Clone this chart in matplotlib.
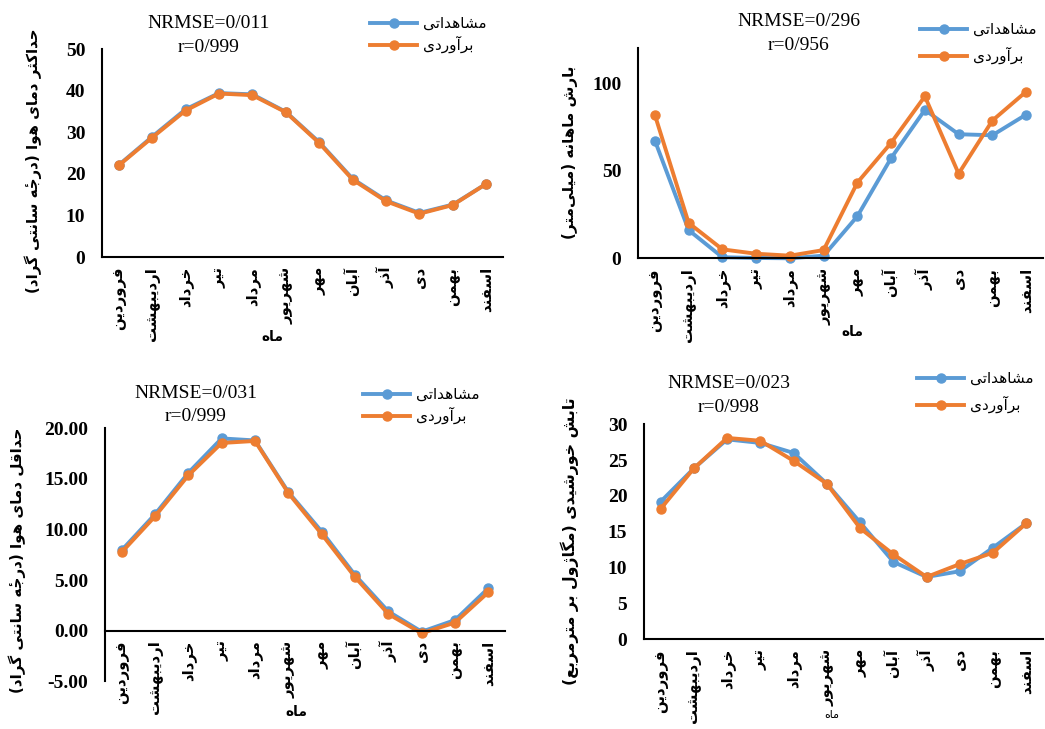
import matplotlib
matplotlib.use("Agg")
import matplotlib.pyplot as plt

# ---------------- data ----------------
months = ["فروردین", "اردیبهشت", "خرداد", "تیر", "مرداد", "شهریور",
          "مهر", "آبان", "آذر", "دی", "بهمن", "اسفند"]
series_names = ["مشاهداتی", "برآوردی"]
x_title = "ماه"

tmax_obs = [22.1, 28.9, 35.5, 39.4, 39.1, 34.9, 27.6, 18.8, 13.6, 10.6, 12.6, 17.6]
tmax_est = [22.0, 28.7, 35.2, 39.3, 38.9, 34.8, 27.4, 18.6, 13.4, 10.4, 12.5, 17.6]
tmax_ylabel = "حداکثر دمای هوا (درجهٔ سانتی گراد)"
tmax_stats = ["NRMSE=0/011", "r=0/999"]
tmax_yticks = [0, 10, 20, 30, 40, 50]

rain_obs = [67.2, 16.1, 0.6, 0.2, 0.0, 1.5, 24.0, 57.2, 84.7, 70.8, 70.2, 82.0]
rain_est = [81.8, 20.2, 5.1, 2.6, 1.5, 4.7, 43.2, 65.9, 92.4, 48.3, 78.6, 95.1]
rain_ylabel = "بارش ماهانه (میلی\u200cمتر)"
rain_stats = ["NRMSE=0/296", "r=0/956"]
rain_yticks = [0, 50, 100]

tmin_obs = [7.95, 11.5, 15.6, 19.0, 18.8, 13.7, 9.8, 5.5, 1.9, -0.1, 1.05, 4.2]
tmin_est = [7.75, 11.3, 15.35, 18.55, 18.75, 13.6, 9.55, 5.3, 1.65, -0.25, 0.8, 3.8]
tmin_ylabel = "حداقل دمای هوا (درجهٔ سانتی گراد)"
tmin_stats = ["NRMSE=0/031", "r=0/999"]
tmin_yticks = [-5, 0, 5, 10, 15, 20]

rad_obs = [19.2, 23.85, 27.9, 27.4, 26.0, 21.7, 16.3, 10.8, 8.7, 9.5, 12.8, 16.2]
rad_est = [18.2, 23.85, 28.1, 27.7, 24.9, 21.7, 15.5, 11.85, 8.7, 10.5, 12.1, 16.2]
rad_ylabel = "تابش خورشیدی (مگاژول بر مترمربع)"
rad_stats = ["NRMSE=0/023", "r=0/998"]
rad_yticks = [0, 5, 10, 15, 20, 25, 30]

# ---------------- simple Persian shaping (matplotlib has no RTL/shaping) ----------------
FORMS = {
    "\u0627": ("\uFE8D", "\uFE8E", None, None),
    "\u0622": ("\uFE81", "\uFE82", None, None),
    "\u0628": ("\uFE8F", "\uFE90", "\uFE91", "\uFE92"),
    "\u062A": ("\uFE95", "\uFE96", "\uFE97", "\uFE98"),
    "\u062B": ("\uFE99", "\uFE9A", "\uFE9B", "\uFE9C"),
    "\u062C": ("\uFE9D", "\uFE9E", "\uFE9F", "\uFEA0"),
    "\u062D": ("\uFEA1", "\uFEA2", "\uFEA3", "\uFEA4"),
    "\u062E": ("\uFEA5", "\uFEA6", "\uFEA7", "\uFEA8"),
    "\u062F": ("\uFEA9", "\uFEAA", None, None),
    "\u0630": ("\uFEAB", "\uFEAC", None, None),
    "\u0631": ("\uFEAD", "\uFEAE", None, None),
    "\u0632": ("\uFEAF", "\uFEB0", None, None),
    "\u0698": ("\uFB8A", "\uFB8B", None, None),
    "\u0633": ("\uFEB1", "\uFEB2", "\uFEB3", "\uFEB4"),
    "\u0634": ("\uFEB5", "\uFEB6", "\uFEB7", "\uFEB8"),
    "\u0639": ("\uFEC9", "\uFECA", "\uFECB", "\uFECC"),
    "\u0641": ("\uFED1", "\uFED2", "\uFED3", "\uFED4"),
    "\u0642": ("\uFED5", "\uFED6", "\uFED7", "\uFED8"),
    "\u0644": ("\uFEDD", "\uFEDE", "\uFEDF", "\uFEE0"),
    "\u0645": ("\uFEE1", "\uFEE2", "\uFEE3", "\uFEE4"),
    "\u0646": ("\uFEE5", "\uFEE6", "\uFEE7", "\uFEE8"),
    "\u0647": ("\uFEE9", "\uFEEA", "\uFEEB", "\uFEEC"),
    "\u0648": ("\uFEED", "\uFEEE", None, None),
    "\u06CC": ("\uFEEF", "\uFEF0", "\uFEF3", "\uFEF4"),
    "\u06A9": ("\uFB8E", "\uFB8F", "\uFB90", "\uFB91"),
    "\u06AF": ("\uFB92", "\uFB93", "\uFB94", "\uFB95"),
}
MARKS = set("\u0654\u064B\u064C\u064D\u064E\u064F\u0650\u0651\u0652")


def fa(s):
    s = s.replace("\u064A", "\u06CC").replace("\u0643", "\u06A9").replace("\u0627\u0653", "\u0622")
    ch = list(s)
    n = len(ch)
    out = []
    for i, c in enumerate(ch):
        if c not in FORMS:
            out.append(c)
            continue
        j = i - 1
        while j >= 0 and ch[j] in MARKS:
            j -= 1
        k = i + 1
        while k < n and ch[k] in MARKS:
            k += 1
        prev = ch[j] if j >= 0 else None
        nxt = ch[k] if k < n else None
        pj = prev in FORMS and FORMS[prev][2] is not None
        iso, fin, ini, med = FORMS[c]
        nj = (nxt in FORMS) and ini is not None
        if pj and nj:
            g = med
        elif pj:
            g = fin
        elif nj:
            g = ini
        else:
            g = iso
        out.append(g)
    clusters = []
    for c in out:
        if c in MARKS and clusters:
            clusters[-1] += c
        elif c == "\u200c":
            continue
        else:
            clusters.append(c)
    clusters.reverse()
    mirror = {"(": ")", ")": "("}
    return "".join(mirror.get(c, c) for c in clusters)


# ---------------- figure ----------------
W, H = 1045, 729
BLUE = "#5B9BD5"
ORANGE = "#ED7D31"
FA = "DejaVu Sans"
SERIF = "Liberation Serif"

fig = plt.figure(figsize=(W / 100, H / 100), dpi=100)
renderer = fig.canvas.get_renderer()


def fx(px):
    return px / W


def fy(py):
    return 1 - py / H


def fit(t, target):
    bb = t.get_window_extent(renderer)
    length = max(bb.width, bb.height)
    t.set_fontsize(t.get_fontsize() * target / length)


panels = [
    dict(obs=tmax_obs, est=tmax_est, ylabel=tmax_ylabel, stats=tmax_stats, yticks=tmax_yticks,
         fmt="{:d}", box=(102, 503, 49, 257), ylim=(0, 50), stats_xy=(209, 23, 48),
         leg=(370, 25, 0.33), ylab=(33, 161, 265), xlab=(272, 337, 22, "bold"), zero=False),
    dict(obs=rain_obs, est=rain_est, ylabel=rain_ylabel, stats=rain_stats, yticks=rain_yticks,
         fmt="{:d}", box=(638, 1043, 48, 258.3), ylim=(0, 120), stats_xy=(799, 22, 46),
         leg=(920, 31, 0.66), ylab=(570, 152, 173), xlab=(852, 332, 22, "bold"), zero=False),
    dict(obs=tmin_obs, est=tmin_est, ylabel=tmin_ylabel, stats=tmin_stats, yticks=tmin_yticks,
         fmt="{:.2f}", box=(105, 505, 428.3, 681.3), ylim=(-5, 20), stats_xy=(196, 393, 417),
         leg=(363, 396, 0.33), ylab=(17, 560, 265), xlab=(296, 712, 22, "bold"), zero=True),
    dict(obs=rad_obs, est=rad_est, ylabel=rad_ylabel, stats=rad_stats, yticks=rad_yticks,
         fmt="{:d}", box=(644, 1043, 424.3, 639.3), ylim=(0, 30), stats_xy=(729, 383, 407),
         leg=(917, 380, 0.66), ylab=(570, 541, 288), xlab=(832, 715, 15, "normal"), zero=False),
]

x = list(range(len(months)))
month_labels = [fa(m) for m in months]

for p in panels:
    l, r, t, b = p["box"]
    ax = fig.add_axes([fx(l), fy(b), fx(r - l), (b - t) / H])
    for s in ("top", "right"):
        ax.spines[s].set_visible(False)
    for s in ("left", "bottom"):
        ax.spines[s].set_linewidth(1.5)
        ax.spines[s].set_color("black")
    if p["zero"]:
        ax.spines["bottom"].set_position(("data", 0))

    ax.plot(x, p["obs"], color=BLUE, lw=2.8, marker="o", ms=6.5, label=fa(series_names[0]))
    ax.plot(x, p["est"], color=ORANGE, lw=2.8, marker="o", ms=6.5, label=fa(series_names[1]))
    ax.set_xlim(-0.5, len(months) - 0.5)
    ax.set_ylim(*p["ylim"])
    ax.set_yticks(p["yticks"])
    ax.set_yticklabels([p["fmt"].format(v) for v in p["yticks"]],
                       fontfamily=SERIF, fontweight="bold", fontsize=14)
    ax.set_xticks(x)
    ax.set_xticklabels(month_labels, rotation=90, fontfamily=FA, fontweight="bold", fontsize=10)
    ax.tick_params(axis="y", length=0, pad=12)
    ax.tick_params(axis="x", length=0, pad=7)
    ax.patch.set_alpha(0)
    for ln in ax.lines:
        ln.set_clip_on(False)

    # fit month label size (based on longest label)
    tl = ax.get_xticklabels()[1]
    fit(tl, 74)
    fs = tl.get_fontsize()
    for lab in ax.get_xticklabels():
        lab.set_fontsize(fs)

    # stats text
    sx, sy1, sy2 = p["stats_xy"]
    fig.text(fx(sx), fy(sy1), p["stats"][0], ha="center", va="center", fontfamily=SERIF, fontsize=14)
    fig.text(fx(sx), fy(sy2), p["stats"][1], ha="center", va="center", fontfamily=SERIF, fontsize=14)

    # y label
    yx, yy, ylen = p["ylab"]
    yt = fig.text(fx(yx), fy(yy), fa(p["ylabel"]), rotation=90, ha="center", va="center",
                  fontfamily=FA, fontweight="bold", fontsize=12)
    fit(yt, ylen)

    # x title
    xx, xy, xlen, xw = p["xlab"]
    xt = fig.text(fx(xx), fy(xy), fa(x_title), ha="center", va="center",
                  fontfamily=FA, fontweight=xw, fontsize=12)
    fit(xt, xlen)

    # legend
    lx, ly, lsp = p["leg"]
    fsz = 11
    rowh = fsz * 100 / 72 * 1.17
    ax.legend(loc="upper left", bbox_to_anchor=(fx(lx), fy(ly - rowh / 2)),
              bbox_transform=fig.transFigure, frameon=False,
              prop=dict(family=FA, size=fsz), handlelength=3.1, handletextpad=0.4,
              borderpad=0, borderaxespad=0, labelspacing=lsp)

fig.savefig("out.png", dpi=100)
